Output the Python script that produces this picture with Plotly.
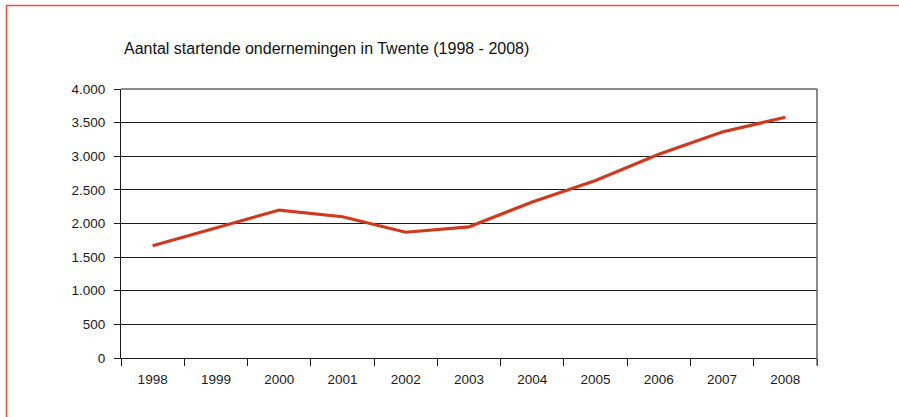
import plotly.graph_objects as go

years = ["1998", "1999", "2000", "2001", "2002", "2003", "2004", "2005", "2006", "2007", "2008"]
startende = [1670, 1930, 2200, 2100, 1870, 1950, 2320, 2640, 3030, 3360, 3580]
y_tickvals = [0, 500, 1000, 1500, 2000, 2500, 3000, 3500, 4000]
y_ticktext = ["0", "500", "1.000", "1.500", "2.000", "2.500", "3.000", "3.500", "4.000"]
title_text = "Aantal startende ondernemingen in Twente (1998 - 2008)"

W, H = 899, 417
L, R, T, B = 121, 82, 89, 59
pw, ph = W - L - R, H - T - B

def px(x):
    return (x - L) / pw

def py(y):
    return (H - B - y) / ph

font_family = "Liberation Sans, Arial, sans-serif"

fig = go.Figure()
fig.add_trace(go.Scatter(
    x=years, y=startende, mode="lines",
    line=dict(color="#CF3A1F", width=3.2),
    hoverinfo="skip", showlegend=False,
))

fig.update_layout(
    width=W, height=H,
    margin=dict(l=L, r=R, t=T, b=B),
    paper_bgcolor="white", plot_bgcolor="white",
    font=dict(family=font_family, size=13.5, color="#1a1a1a"),
    showlegend=False,
    xaxis=dict(
        type="category", range=[-0.5, 10.5],
        tickson="boundaries", ticks="outside", ticklen=7, tickwidth=1, tickcolor="#1a1a1a",
        showline=True, linecolor="#1a1a1a", linewidth=1,
        showgrid=False, zeroline=False, fixedrange=True,
        ticklabelstandoff=9,
        tickfont=dict(size=13.5, color="#1a1a1a"),
    ),
    yaxis=dict(
        range=[0, 4000], tickvals=y_tickvals, ticktext=y_ticktext,
        ticks="outside", ticklen=6, tickwidth=1, tickcolor="#1a1a1a",
        showline=True, linecolor="#1a1a1a", linewidth=1,
        showgrid=True, gridcolor="#1a1a1a", gridwidth=1,
        zeroline=False, fixedrange=True,
        ticklabelstandoff=6,
        tickfont=dict(size=13.5, color="#1a1a1a"),
    ),
    shapes=[
        # outer red frame
        dict(type="rect", xref="paper", yref="paper",
             x0=px(6.5), x1=px(910), y0=py(430), y1=py(5.5),
             line=dict(color="#E8503A", width=1.5), fillcolor="rgba(0,0,0,0)", layer="below"),
        # gray top gridline and right border
        dict(type="line", xref="paper", yref="paper", x0=0, x1=1, y0=1, y1=1,
             line=dict(color="#666666", width=1.5)),
        dict(type="line", xref="paper", yref="paper", x0=1, x1=1, y0=py(365), y1=1,
             line=dict(color="#666666", width=1.5)),
    ],
    annotations=[
        dict(text=title_text, xref="paper", yref="paper", x=px(122), y=py(49),
             xanchor="left", yanchor="middle", showarrow=False,
             font=dict(family=font_family, size=16, color="#111111")),
    ],
)

fig.write_html(
    "out.html",
    config={"displayModeBar": False, "staticPlot": True},
    post_script="document.body.style.margin='0';document.body.style.overflow='hidden';",
)
